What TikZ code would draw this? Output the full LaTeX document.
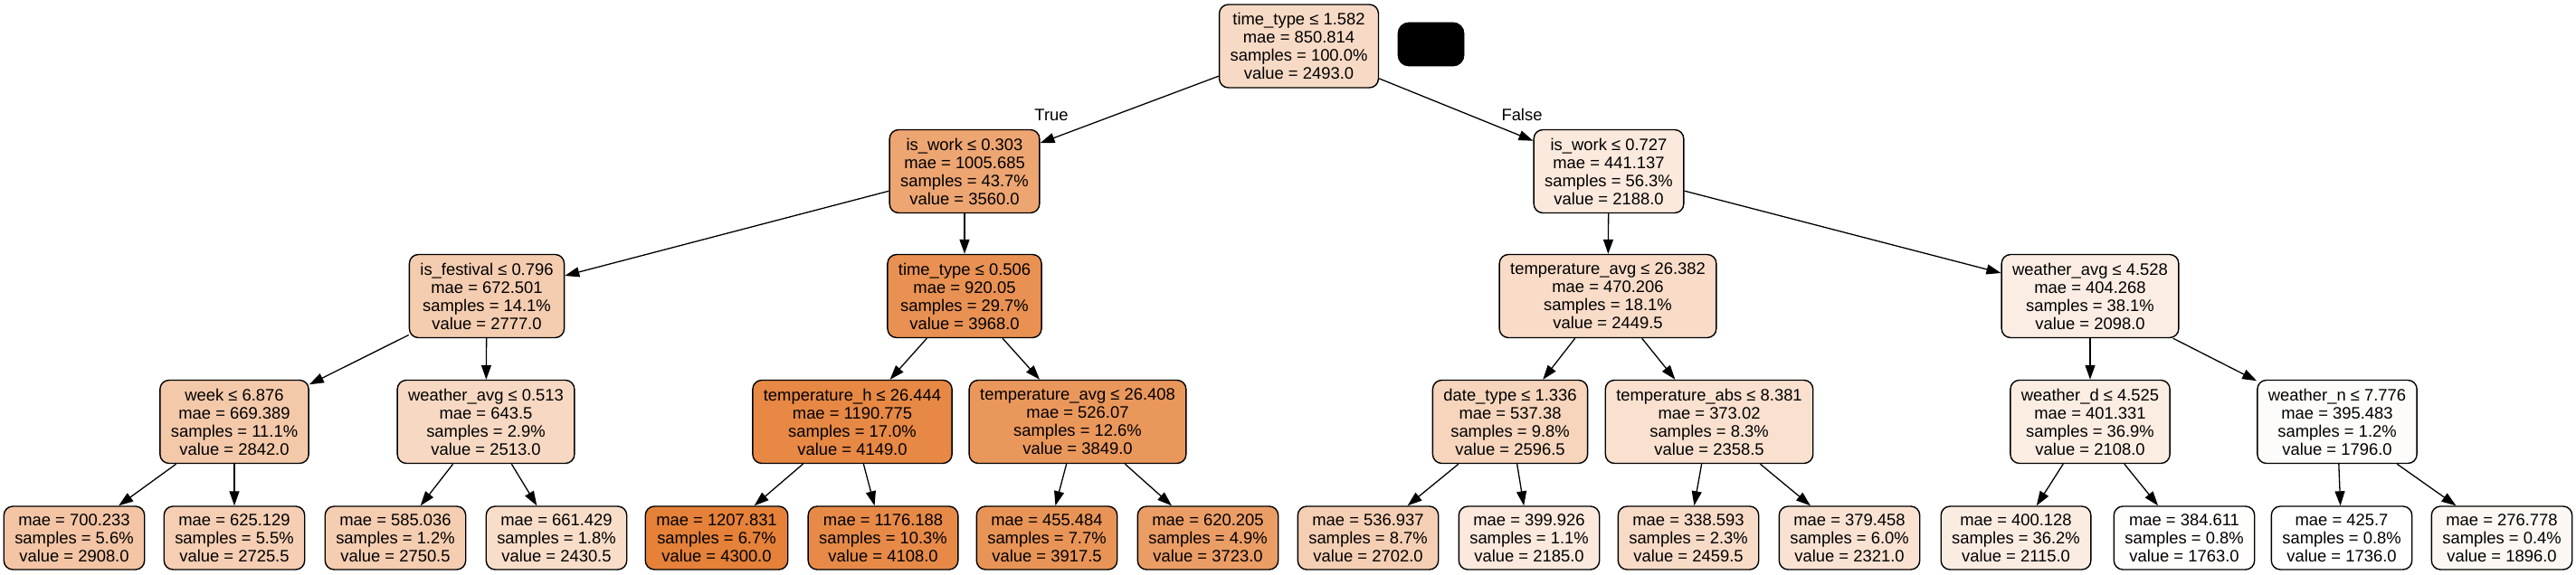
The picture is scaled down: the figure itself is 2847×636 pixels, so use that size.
\documentclass[tikz,border=0pt]{standalone}
\usepackage{fontspec}
\setmainfont{Liberation Sans}
\usetikzlibrary{arrows.meta}
\definecolor{tone}{RGB}{229,129,57}

\begin{document}
\begin{tikzpicture}[x=0.5pt, y=-0.5pt,
        s/.style={draw, rounded corners=5pt, line width=0.7pt, align=center, inner xsep=6pt, inner ysep=3pt},
        d/.style={s, minimum height=46pt},
        l/.style={s, minimum height=35pt},
        e/.style={-{Triangle[length=8pt, width=5.5pt]}, line width=0.65pt},
        every node/.style={font=\fontsize{9.2}{10}\selectfont}]
        \useasboundingbox[fill=white] (0,0) rectangle (2847,636);

        % splits
        \node[d, fill=tone!29.5] (root) at (1435.5,51) {time\_type ≤ 1.582\\mae = 850.814\\samples = 100.0\%\\value = 2493.0};
        \node[draw, fill=black, rounded corners=6pt, minimum width=36.5pt, minimum height=24pt] (key) at (1581.5,49) {};

        \node[d, fill=tone!71.1] (isw1) at (1066,189.5) {is\_work ≤ 0.303\\mae = 1005.685\\samples = 43.7\%\\value = 3560.0};
        \node[d, fill=tone!17.6] (isw2) at (1778,189.5) {is\_work ≤ 0.727\\mae = 441.137\\samples = 56.3\%\\value = 2188.0};

        \node[d, fill=tone!40.6] (fest) at (538,327.5) {is\_festival ≤ 0.796\\mae = 672.501\\samples = 14.1\%\\value = 2777.0};
        \node[d, fill=tone!87.0] (tt2) at (1066,327.5) {time\_type ≤ 0.506\\mae = 920.05\\samples = 29.7\%\\value = 3968.0};
        \node[d, fill=tone!27.8] (tavg1) at (1777,327.5) {temperature\_avg ≤ 26.382\\mae = 470.206\\samples = 18.1\%\\value = 2449.5};
        \node[d, fill=tone!14.1] (wavg1) at (2310,327.5) {weather\_avg ≤ 4.528\\mae = 404.268\\samples = 38.1\%\\value = 2098.0};

        \node[d, fill=tone!43.1] (week) at (259,466.5) {week ≤ 6.876\\mae = 669.389\\samples = 11.1\%\\value = 2842.0};
        \node[d, fill=tone!30.3] (wavg2) at (537,466.5) {weather\_avg ≤ 0.513\\mae = 643.5\\samples = 2.9\%\\value = 2513.0};
        \node[d, fill=tone!94.1] (th) at (942,466.5) {temperature\_h ≤ 26.444\\mae = 1190.775\\samples = 17.0\%\\value = 4149.0};
        \node[d, fill=tone!82.4] (tavg2) at (1191,466.5) {temperature\_avg ≤ 26.408\\mae = 526.07\\samples = 12.6\%\\value = 3849.0};
        \node[d, fill=tone!33.6] (date) at (1669,466.5) {date\_type ≤ 1.336\\mae = 537.38\\samples = 9.8\%\\value = 2596.5};
        \node[d, fill=tone!24.3] (tabs) at (1889,466.5) {temperature\_abs ≤ 8.381\\mae = 373.02\\samples = 8.3\%\\value = 2358.5};
        \node[d, fill=tone!14.5] (wd) at (2310,466.5) {weather\_d ≤ 4.525\\mae = 401.331\\samples = 36.9\%\\value = 2108.0};
        \node[d, fill=tone!2.3] (wn) at (2583,466.5) {weather\_n ≤ 7.776\\mae = 395.483\\samples = 1.2\%\\value = 1796.0};

        % leaves
        \node[l, fill=tone!45.7] (l1) at (82,595) {mae = 700.233\\samples = 5.6\%\\value = 2908.0};
        \node[l, fill=tone!38.6] (l2) at (259,595) {mae = 625.129\\samples = 5.5\%\\value = 2725.5};
        \node[l, fill=tone!39.6] (l3) at (437,595) {mae = 585.036\\samples = 1.2\%\\value = 2750.5};
        \node[l, fill=tone!27.1] (l4) at (615,595) {mae = 661.429\\samples = 1.8\%\\value = 2430.5};
        \node[l, fill=tone] (l5) at (792,595) {mae = 1207.831\\samples = 6.7\%\\value = 4300.0};
        \node[l, fill=tone!92.5] (l6) at (976,595) {mae = 1176.188\\samples = 10.3\%\\value = 4108.0};
        \node[l, fill=tone!85.1] (l7) at (1157,595) {mae = 455.484\\samples = 7.7\%\\value = 3917.5};
        \node[l, fill=tone!77.5] (l8) at (1335,595) {mae = 620.205\\samples = 4.9\%\\value = 3723.0};
        \node[l, fill=tone!37.7] (l9) at (1512,595) {mae = 536.937\\samples = 8.7\%\\value = 2702.0};
        \node[l, fill=tone!17.5] (l10) at (1690,595) {mae = 399.926\\samples = 1.1\%\\value = 2185.0};
        \node[l, fill=tone!28.2] (l11) at (1866,595) {mae = 338.593\\samples = 2.3\%\\value = 2459.5};
        \node[l, fill=tone!22.8] (l12) at (2044,595) {mae = 379.458\\samples = 6.0\%\\value = 2321.0};
        \node[l, fill=tone!14.8] (l13) at (2228,595) {mae = 400.128\\samples = 36.2\%\\value = 2115.0};
        \node[l, fill=tone!1.1] (l14) at (2414,595) {mae = 384.611\\samples = 0.8\%\\value = 1763.0};
        \node[l, fill=white] (l15) at (2588,595) {mae = 425.7\\samples = 0.8\%\\value = 1736.0};
        \node[l, fill=tone!6.2] (l16) at (2765,595) {mae = 276.778\\samples = 0.4\%\\value = 1896.0};

        \node (yes) at (1162,127) {True};
        \node (no) at (1682,127) {False};

        \draw[e] (root) -- (isw1);
        \draw[e] (root) -- (isw2);
        \draw[e] (isw1) -- (fest);
        \draw[e] (isw1) -- (tt2);
        \draw[e] (isw2) -- (tavg1);
        \draw[e] (isw2) -- (wavg1);
        \draw[e] (fest) -- (week);
        \draw[e] (fest) -- (wavg2);
        \draw[e] (tt2) -- (th);
        \draw[e] (tt2) -- (tavg2);
        \draw[e] (tavg1) -- (date);
        \draw[e] (tavg1) -- (tabs);
        \draw[e] (wavg1) -- (wd);
        \draw[e] (wavg1) -- (wn);
        \draw[e] (week) -- (l1);
        \draw[e] (week) -- (l2);
        \draw[e] (wavg2) -- (l3);
        \draw[e] (wavg2) -- (l4);
        \draw[e] (th) -- (l5);
        \draw[e] (th) -- (l6);
        \draw[e] (tavg2) -- (l7);
        \draw[e] (tavg2) -- (l8);
        \draw[e] (date) -- (l9);
        \draw[e] (date) -- (l10);
        \draw[e] (tabs) -- (l11);
        \draw[e] (tabs) -- (l12);
        \draw[e] (wd) -- (l13);
        \draw[e] (wd) -- (l14);
        \draw[e] (wn) -- (l15);
        \draw[e] (wn) -- (l16);
    \end{tikzpicture}
\end{document}
